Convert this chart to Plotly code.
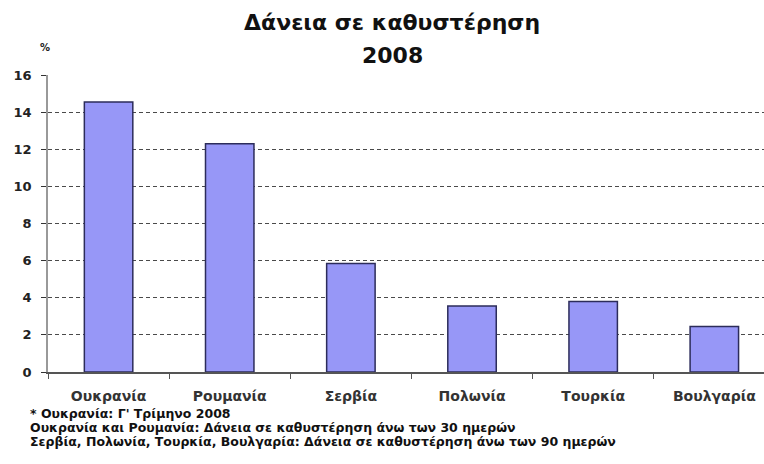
import plotly.graph_objects as go

# Loans in arrears, 2008 (% of total loans)
countries = ["Ουκρανία", "Ρουμανία", "Σερβία", "Πολωνία", "Τουρκία", "Βουλγαρία"]
arrears_pct = [14.55, 12.3, 5.85, 3.55, 3.8, 2.45]
y_ticks = [0, 2, 4, 6, 8, 10, 12, 14, 16]

title_lines = ["Δάνεια σε καθυστέρηση", "2008"]
footnotes = [
    "* Ουκρανία: Γ' Τρίμηνο 2008",
    "Ουκρανία και Ρουμανία: Δάνεια σε καθυστέρηση άνω των 30 ημερών",
    "Σερβία, Πολωνία, Τουρκία, Βουλγαρία: Δάνεια σε καθυστέρηση άνω των 90 ημερών",
]

FONT = "DejaVu Sans"
PLOT_LEFT = 48
PLOT_TOP, PLOT_BOTTOM = 75, 372          # pixel rows of the plot area
PLOT_W = 764 - PLOT_LEFT
PLOT_H = PLOT_BOTTOM - PLOT_TOP


def paper_y(py):
    """Convert a pixel row to paper coordinates."""
    return (PLOT_BOTTOM - py) / PLOT_H


def paper_x(px):
    """Convert a pixel column to paper coordinates."""
    return (px - PLOT_LEFT) / PLOT_W


fig = go.Figure(
    go.Bar(
        x=countries,
        y=arrears_pct,
        width=0.4,
        marker=dict(color="#9797f7", line=dict(color="#2c2c5a", width=1.5)),
        hoverinfo="x+y",
    )
)

fig.update_layout(
    width=764,
    height=464,
    margin=dict(l=PLOT_LEFT, r=0, t=PLOT_TOP, b=464 - PLOT_BOTTOM),
    paper_bgcolor="white",
    plot_bgcolor="white",
    showlegend=False,
    font=dict(family=FONT, color="#222"),
)

fig.update_xaxes(
    range=[-0.5, 5.41],
    tickvals=countries,
    ticktext=[f"<b>{c}</b>" for c in countries],
    tickfont=dict(family=FONT, size=14, color="#333"),
    ticklabelstandoff=10,
    showline=True,
    linecolor="#555",
    linewidth=2,
    ticks="outside",
    tickson="boundaries",
    ticklen=5,
    tickcolor="#555",
    showgrid=False,
)

fig.update_yaxes(
    range=[0, 16],
    tickvals=y_ticks,
    ticktext=[f"<b>{v}</b>" for v in y_ticks],
    tickfont=dict(family=FONT, size=13, color="#222"),
    ticklabelstandoff=7,
    showline=True,
    linecolor="#999",
    linewidth=1.5,
    ticks="outside",
    ticklen=5,
    tickcolor="#333",
    showgrid=True,
    gridcolor="#4a4a4a",
    gridwidth=1.2,
    griddash="4px,3px",
    zeroline=False,
)

# Two-line title
for py, txt in zip([23, 56], title_lines):
    fig.add_annotation(
        text=f"<b>{txt}</b>",
        xref="paper", yref="paper",
        x=paper_x(392), y=paper_y(py),
        xanchor="center", yanchor="middle",
        showarrow=False,
        font=dict(family=FONT, size=22, color="#111"),
    )

# Unit label above the value axis
fig.add_annotation(
    text="<b>%</b>",
    xref="paper", yref="paper",
    x=paper_x(45), y=paper_y(47),
    xanchor="center", yanchor="middle",
    showarrow=False,
    font=dict(family=FONT, size=10, color="#222"),
)

# Footnotes below the chart
for py, line in zip([413, 427, 441], footnotes):
    fig.add_annotation(
        text=f"<b>{line}</b>",
        xref="paper", yref="paper",
        x=paper_x(28), y=paper_y(py),
        xanchor="left", yanchor="middle",
        showarrow=False,
        font=dict(family=FONT, size=12.5, color="#111"),
    )

fig.write_html("out.html")
